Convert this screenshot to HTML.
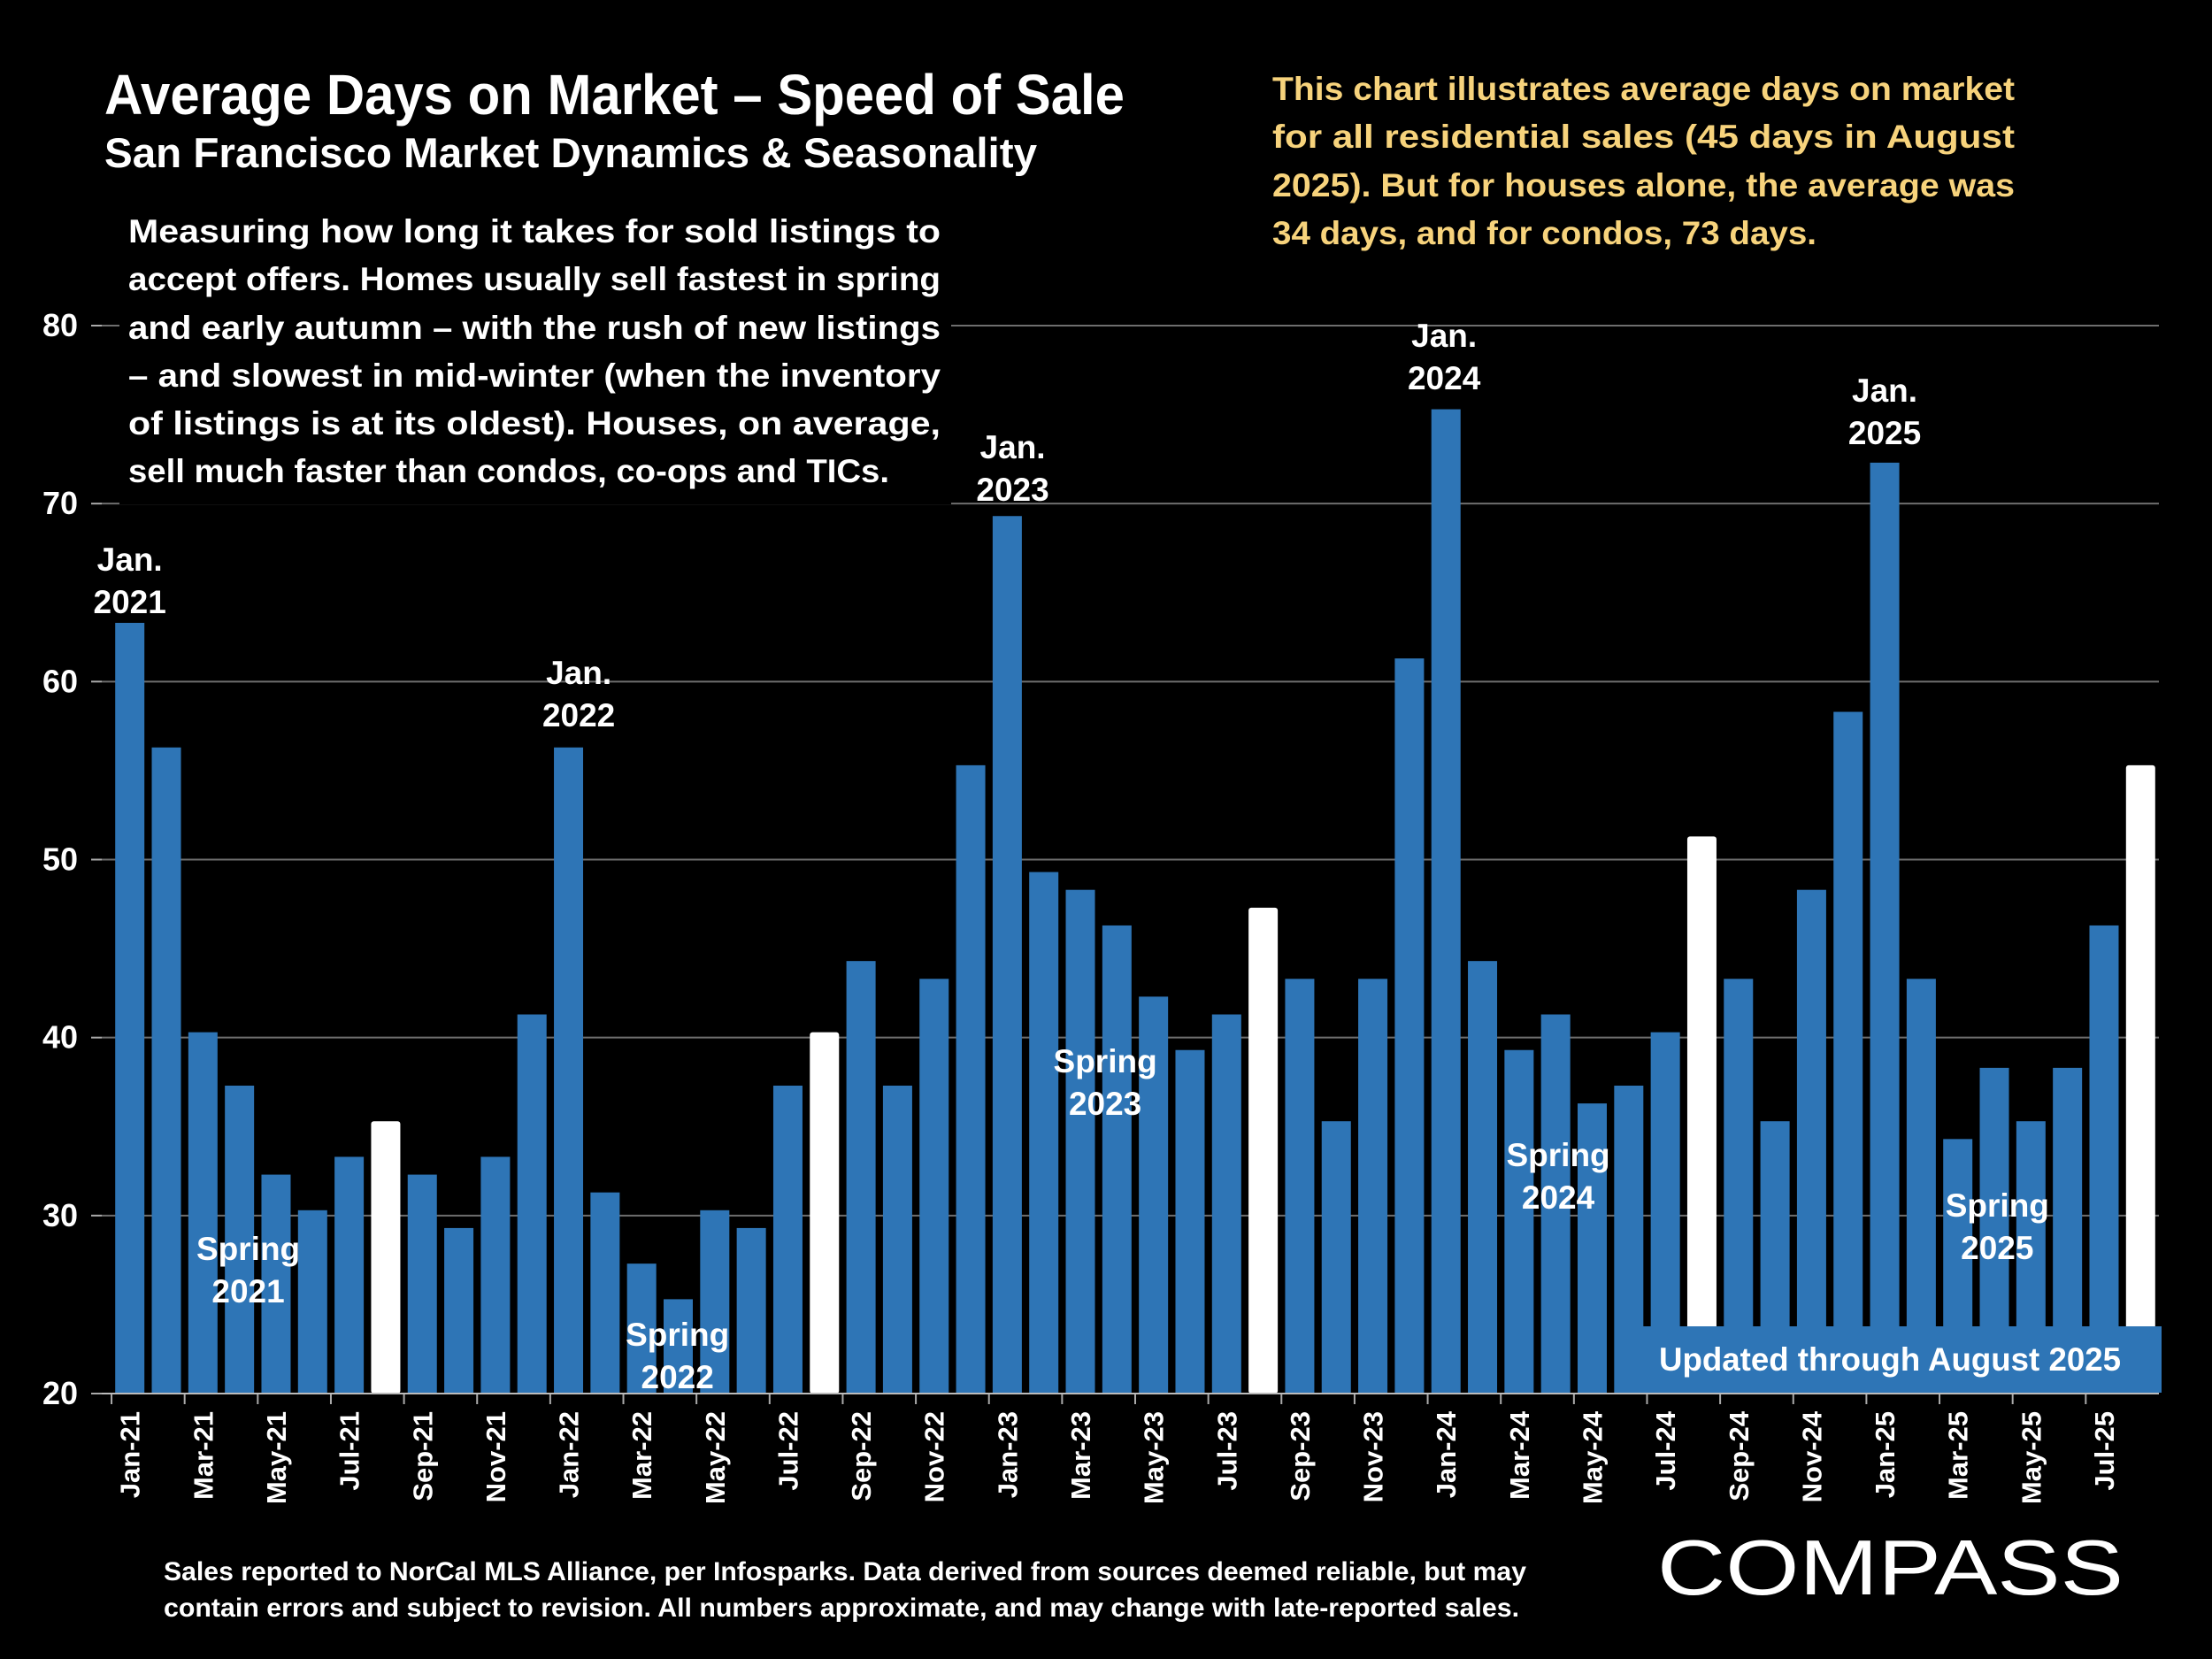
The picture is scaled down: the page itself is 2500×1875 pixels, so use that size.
<!DOCTYPE html>
<html><head><meta charset="utf-8"><style>
html,body{margin:0;padding:0;background:#000;}
svg{display:block;font-family:"Liberation Sans",sans-serif;}
</style></head><body>
<svg id="chart" width="2500" height="1875" viewBox="0 0 2500 1875" xmlns="http://www.w3.org/2000/svg">
<rect x="0" y="0" width="2500" height="1875" fill="#000"/>
<g id="grid"></g>
<g id="bars"></g>
<g id="axes"></g>
<g id="notes"></g>

<rect x="135" y="230" width="940" height="340" fill="#000"/>
<text x="118" y="129" font-size="64" font-weight="bold" fill="#fff" textLength="1153" lengthAdjust="spacingAndGlyphs">Average Days on Market – Speed of Sale</text>
<text x="118" y="189" font-size="47" font-weight="bold" fill="#fff" textLength="1054" lengthAdjust="spacingAndGlyphs">San Francisco Market Dynamics &amp; Seasonality</text>

<g font-size="37" font-weight="bold" fill="#fff">
<text x="145" y="274" textLength="918" lengthAdjust="spacingAndGlyphs">Measuring how long it takes for sold listings to</text>
<text x="145" y="328" textLength="918" lengthAdjust="spacingAndGlyphs">accept offers. Homes usually sell fastest in spring</text>
<text x="145" y="383" textLength="918" lengthAdjust="spacingAndGlyphs">and early autumn – with the rush of new listings</text>
<text x="145" y="437" textLength="918" lengthAdjust="spacingAndGlyphs">– and slowest in mid-winter (when the inventory</text>
<text x="145" y="491" textLength="918" lengthAdjust="spacingAndGlyphs">of listings is at its oldest). Houses, on average,</text>
<text x="145" y="545" textLength="860" lengthAdjust="spacingAndGlyphs">sell much faster than condos, co-ops and TICs.</text>
</g>
<g font-size="37" font-weight="bold" fill="#f7d37c">
<text x="1438" y="113" textLength="839" lengthAdjust="spacingAndGlyphs">This chart illustrates average days on market</text>
<text x="1438" y="167" textLength="839" lengthAdjust="spacingAndGlyphs">for all residential sales (45 days in August</text>
<text x="1438" y="222" textLength="839" lengthAdjust="spacingAndGlyphs">2025). But for houses alone, the average was</text>
<text x="1438" y="276" textLength="615" lengthAdjust="spacingAndGlyphs">34 days, and for condos, 73 days.</text>
</g>

<rect x="1854" y="1499" width="589" height="75" fill="#2e75b6"/>
<text x="2136" y="1549" font-size="37" font-weight="bold" fill="#fff" text-anchor="middle" textLength="522" lengthAdjust="spacingAndGlyphs">Updated through August 2025</text>

<text x="1873" y="1802" font-size="88" fill="#fff" textLength="527" lengthAdjust="spacingAndGlyphs">COMPASS</text>
<g font-size="30" font-weight="bold" fill="#fff">
<text x="185" y="1786" textLength="1540" lengthAdjust="spacingAndGlyphs">Sales reported to NorCal MLS Alliance, per Infosparks. Data derived from sources deemed reliable, but may</text>
<text x="185" y="1827" textLength="1532" lengthAdjust="spacingAndGlyphs">contain errors and subject to revision. All numbers approximate, and may change with late-reported sales.</text>
</g>
</svg>
<script>
const months = ["Jan-21","Feb-21","Mar-21","Apr-21","May-21","Jun-21","Jul-21","Aug-21","Sep-21","Oct-21","Nov-21","Dec-21",
"Jan-22","Feb-22","Mar-22","Apr-22","May-22","Jun-22","Jul-22","Aug-22","Sep-22","Oct-22","Nov-22","Dec-22",
"Jan-23","Feb-23","Mar-23","Apr-23","May-23","Jun-23","Jul-23","Aug-23","Sep-23","Oct-23","Nov-23","Dec-23",
"Jan-24","Feb-24","Mar-24","Apr-24","May-24","Jun-24","Jul-24","Aug-24","Sep-24","Oct-24","Nov-24","Dec-24",
"Jan-25","Feb-25","Mar-25","Apr-25","May-25","Jun-25","Jul-25","Aug-25"];
const days = [63.3,56.3,40.3,37.3,32.3,30.3,33.3,35.3,32.3,29.3,33.3,41.3,
56.3,31.3,27.3,25.3,30.3,29.3,37.3,40.3,44.3,37.3,43.3,55.3,
69.3,49.3,48.3,46.3,42.3,39.3,41.3,47.3,43.3,35.3,43.3,61.3,
75.3,44.3,39.3,41.3,36.3,37.3,40.3,51.3,43.3,35.3,48.3,58.3,
72.3,43.3,34.3,38.3,35.3,38.3,46.3,55.3];
const yTicks = [20,30,40,50,60,70,80];
const janLabels = [["Jan.","2021",0],["Jan.","2022",12.28],["Jan.","2023",24.15],["Jan.","2024",35.95],["Jan.","2025",48]];
const springLabels = [["Spring","2021",3.24],["Spring","2022",14.98],["Spring","2023",26.68],["Spring","2024",39.07],["Spring","2025",51.08]];

const NS="http://www.w3.org/2000/svg";
const X0=146.7, STEP=41.32, BW=33, Y20=1575, Y80=368;
const xs=i=>X0+i*STEP;
const ys=v=>Y20-(v-20)*(Y20-Y80)/60;
function mk(tag,attrs,parent,txt){const e=document.createElementNS(NS,tag);for(const k in attrs)e.setAttribute(k,attrs[k]);if(txt!==undefined)e.textContent=txt;parent.appendChild(e);return e;}
const grid=document.getElementById('grid'),bars=document.getElementById('bars'),axes=document.getElementById('axes'),notes=document.getElementById('notes');

yTicks.forEach(t=>{
  if(t>20){const g=mk('line',{x1:115,x2:2440,y1:ys(t),y2:ys(t),stroke:'#6e6e6e','stroke-width':2},grid);
  
  }
  const tk=mk('line',{x1:103,x2:115,y1:ys(t),y2:ys(t),stroke:'#aaa','stroke-width':2},axes);
  
  
  const l=mk('text',{x:88,y:ys(t)+12,'font-size':36,'font-weight':'bold',fill:'#fff','text-anchor':'end'},axes,String(t));
  
  
});
months.forEach((m,i)=>{
  const white = m.startsWith('Aug');
  const v=days[i];
  const b=mk('rect',{x:xs(i)-BW/2,y:ys(v),width:BW,height:Y20-ys(v),fill:white?'#fff':'#2e75b6',rx:white?3:0},bars);
  
  
  if(i%2===0){
    const t=mk('text',{x:0,y:0,'font-size':31,'font-weight':'bold',fill:'#fff','text-anchor':'end',transform:`translate(${xs(i)+11},1595) rotate(-90)`},axes,m);
    
    
    const tk=mk('line',{x1:xs(i)-STEP/2,x2:xs(i)-STEP/2,y1:Y20,y2:Y20+12,stroke:'#aaa','stroke-width':2},axes);
    
    
  }
});
const ax=mk('line',{x1:115,x2:2440,y1:Y20,y2:Y20,stroke:'#bbb','stroke-width':2},axes);


const janY={"2021":645,"2022":773,"2023":518,"2024":392,"2025":454};
janLabels.forEach(([a,b,i])=>{
  const t1=mk('text',{x:xs(i),y:janY[b],'font-size':37,'font-weight':'bold',fill:'#fff','text-anchor':'middle'},notes,a);
  
  
  const t2=mk('text',{x:xs(i),y:janY[b]+48,'font-size':37,'font-weight':'bold',fill:'#fff','text-anchor':'middle'},notes,b);
  
  
});
const springY={"2021":1424,"2022":1521,"2023":1212,"2024":1318,"2025":1375};
springLabels.forEach(([a,b,i])=>{
  const cx=xs(i);
  const t1=mk('text',{x:cx,y:springY[b],'font-size':37,'font-weight':'bold',fill:'#fff','text-anchor':'middle'},notes,a);
  
  
  const t2=mk('text',{x:cx,y:springY[b]+48,'font-size':37,'font-weight':'bold',fill:'#fff','text-anchor':'middle'},notes,b);
  
  
});
</script>
</body></html>
